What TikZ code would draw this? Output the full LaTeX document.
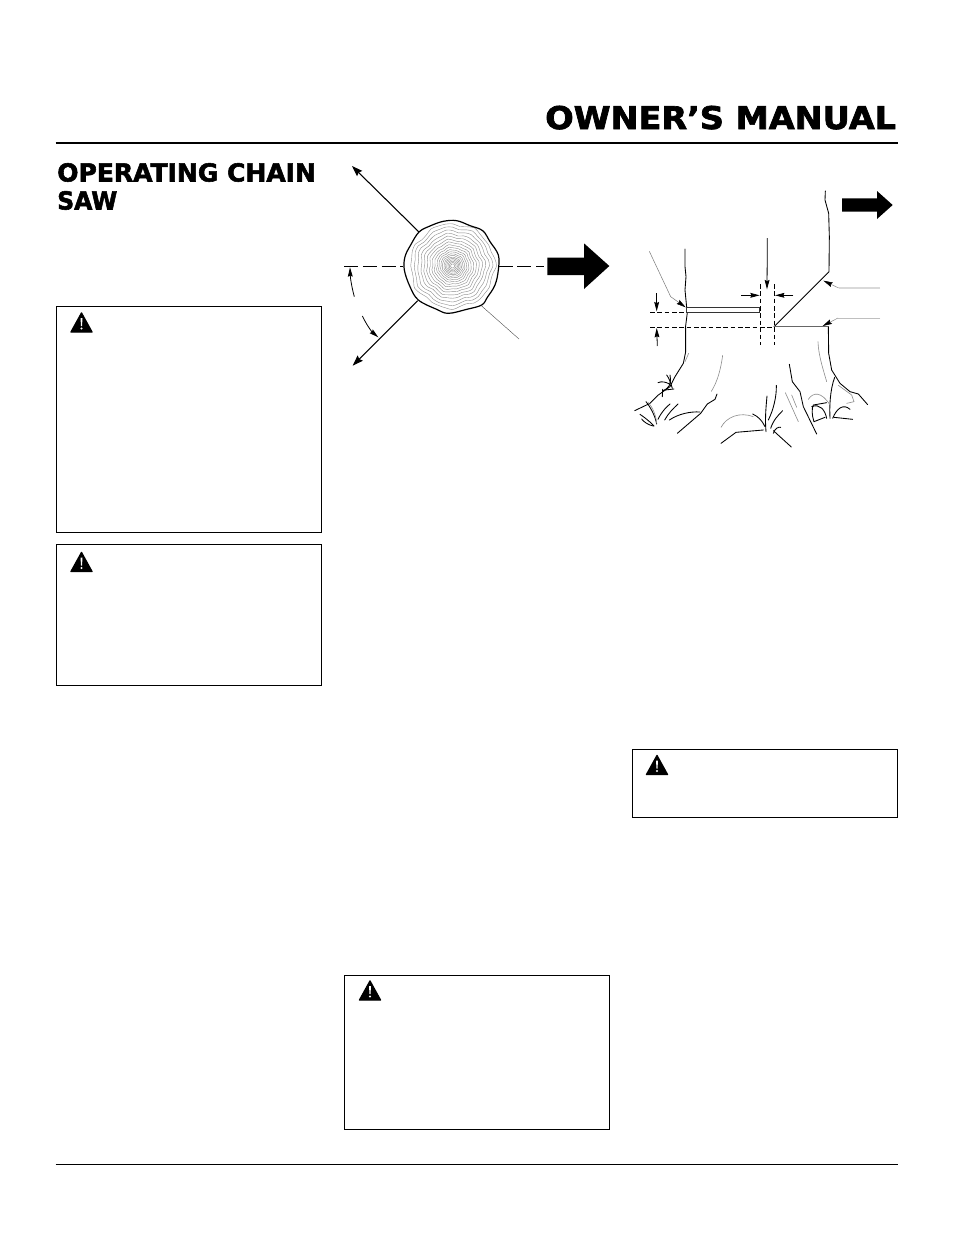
\documentclass[tikz,border=0pt]{standalone}
\usepackage{fontspec}
\usepackage{graphicx}
\setmainfont{DejaVu Sans}[BoldFeatures={FakeBold=2.2}]
\usetikzlibrary{arrows.meta}
\tikzset{
 px/.style={x=0.75pt,y=-0.75pt},
 zoomA/.style={shift={(340,160)},x=0.25pt,y=-0.25pt},
 zoomB/.style={shift={(630,180)},x=0.25pt,y=-0.25pt},
 zoomC/.style={shift={(630,320)},x=0.25pt,y=-0.25pt},
 warnbox/.style={draw=black,line width=0.6pt},
 fatarrow/.style={fill=black,draw=none},
 ink/.style={line width=0.65pt,line join=round,line cap=round},
 pale/.style={line width=0.45pt,draw=black!45,line join=round,line cap=round},
 dashline/.style={line width=0.7pt,dash pattern=on 3.5pt off 2pt},
 longdash/.style={line width=0.7pt,dash pattern=on 10.5pt off 3.6pt},
 ptr/.style={-{Stealth[length=7pt,width=3.6pt,inset=0.8pt,color=black]},line width=0.6pt},
 bigptr/.style={line width=0.8pt,{Stealth[length=8pt,width=5.5pt,inset=1pt,color=black]}-},
 ring/.style={line width=0.3pt,draw=black!45},
 heading/.style={font=\bfseries,text=black,inner sep=0pt,anchor=base west},
}
\newcommand{\warntri}[2]{%
 \begin{scope}[shift={(#1,#2)}]
  \filldraw[black,line width=1pt,line join=round] (11,0.5) -- (21.5,19.5) -- (0.5,19.5) -- cycle;
  \fill[white] (10,5.5) -- (12,5.5) -- (11.5,13.5) -- (10.5,13.5) -- cycle;
  \fill[white] (11,16) circle (1.1);
 \end{scope}}
\begin{document}
\begin{tikzpicture}[px]
\useasboundingbox (0,0) rectangle (954,1235);
\fill[white] (0,0) rectangle (954,1235);
% header
\node[heading] (title) at (545,129) {\resizebox{263pt}{17.4pt}{OWNER’S MANUAL}};
\draw[line width=1.4pt] (55.5,143) -- (898,143);
\draw[line width=0.6pt] (55.5,1164) -- (898,1164);
\node[heading] (h1) at (57,181.5) {\resizebox{194pt}{13.8pt}{OPERATING CHAIN}};
\node[heading] (h2) at (57,209.5) {\resizebox{45pt}{13.8pt}{SAW}};
% boxes
\draw[warnbox] (56.5,306.5) rectangle (321.5,532.5);
\draw[warnbox] (56.5,544.5) rectangle (321.5,685.5);
\draw[warnbox] (632.5,749.5) rectangle (897.5,817.5);
\draw[warnbox] (344.5,975.5) rectangle (609.5,1129.5);
\warntri{70.5}{312.5}
\warntri{70.5}{552}
\warntri{646}{755}
\warntri{359}{980.5}
% log
\begin{scope}[zoomA]
 \foreach \R in {6,10,14,18,22,26,31,36,42,48,55,62,70,78,87,96,106,116,126}{
  \draw[ring] plot[smooth cycle,domain=0:350,samples=36,variable=\t]
   ({338+\R*(1+0.028*sin(7*\t+\R)+0.022*sin(12*\t-2*\R))*cos(\t)},
    {318+\R*(1+0.028*sin(7*\t+\R)+0.022*sin(12*\t-2*\R))*sin(\t)});
 }
 \draw[line width=0.9pt,line join=round] plot[smooth cycle,tension=0.6] coordinates {
  (237,216)(270,198)(310,184)(350,182)(390,197)(428,212)(450,245)(475,285)(475,330)(465,375)(442,412)(425,435)(380,448)(325,460)(290,448)(235,420)(210,380)(193,330)(195,290)(212,255)};
 \coordinate (ne) at (237,216); \coordinate (neEnd) at (36,18);
 \coordinate (sw) at (233,422); \coordinate (swEnd) at (38,617);
 \draw[bigptr] (neEnd) -- (ne);
 \draw[bigptr] (swEnd) -- (sw);
 \draw[line width=0.3pt,draw=black!70] (425,438) -- (537,537);
 \draw[longdash] (12,318) -- (190,318);
 \draw[longdash] (476,318) -- (612,318);
 \draw[ptr] (43,410) .. controls (36,385) and (31,355) .. (30,322);
 \draw[ptr] (67,468) .. controls (80,495) and (95,515) .. (115,532);
 \fill[fatarrow] (622,293) -- (732,293) -- (732,250) -- (808,318) -- (732,387) -- (732,345) -- (622,345) -- cycle;
\end{scope}
% stump top
\begin{scope}[zoomB]
 \fill[fatarrow] (636,55) -- (741,55) -- (741,33) -- (788,75) -- (741,117) -- (741,95) -- (636,95) -- cycle;
 % tree outline
 \draw[ink] (586,33) -- (585,60) -- (596,100) -- (598,170) -- (597,275) -- (432,440);
 \draw[ink] (165,207) -- (165,260) -- (168,290) -- (165,330) -- (170,382);
 \draw[ink] (172,397) -- (166,445);
 % back cut
 \draw[line width=0.7pt,draw=black!80,fill=white] (170,382) rectangle (389,397);
 \draw[line width=1.1pt,draw=black!60] (432,440) -- (596,440);
 % dashed
 \draw[dashline] (60,397) -- (165,397);
 \draw[dashline] (60,441) -- (430,441);
 \draw[dashline] (391,312) -- (391,442);
 \draw[dashline] (433,312) -- (433,442);
 % pointers
 \draw[ptr] (412,174) -- (411,328);
 \draw[ptr] (333,346) -- (389,346);
 \draw[ptr] (490,346) -- (435,346);
 \draw[ptr] (80,340) -- (80,394);
 \draw[ptr,line width=0.4pt,draw=black!50] (58,214) -- (122,350) -- (167,382);
 \draw[line width=1.1pt,draw=black!15] (750,324) -- (626,324);
 \draw[ptr,line width=0.4pt,draw=black!45] (626,324) -- (580,302);
 \draw[line width=0.5pt,draw=black!25] (750,414) -- (624,414);
 \draw[ptr,line width=0.4pt,draw=black!45] (624,414) -- (578,438);
\end{scope}
% stump base
\begin{scope}[zoomC]
 \draw[ptr] (82,78) -- (80,24);
 \draw[dashline] (391,22) -- (391,76);
 \draw[dashline] (433,22) -- (433,76);
 \draw[ink] (167,24) -- (167,95) -- (160,130) -- (135,170) -- (120,200) -- (85,225) -- (60,250) -- (14,272);
 \draw[pale] (176,100) -- (165,125);
 \draw[pale] (278,106) .. controls (272,150) and (262,185) .. (244,214);
 \draw[ink] (261,222) -- (255,238) -- (232,252) -- (212,280) -- (142,340);
 \draw[ink] (118,300) .. controls (145,282) and (180,274) .. (210,276);
 % right trunk
 \draw[ink] (595,21) -- (596,100) -- (605,150) -- (630,190) -- (660,215) -- (685,222) -- (713,254);
 \draw[pale] (564,65) .. controls (565,105) and (580,150) .. (590,185);
 \draw[pale] (625,196) -- (665,225) -- (672,245) -- (650,250);
 \draw[ink] (478,133) -- (487,185) -- (510,215) -- (520,260) -- (560,342);
 \draw[pale] (466,218) -- (505,305);
 \draw[pale] (485,225) -- (500,262);
 % central root
 \draw[ink] (273,370) -- (318,337) -- (400,330);
 \draw[ink] (430,332) -- (484,381);
 \draw[pale] (273,322) .. controls (290,290) and (330,275) .. (370,290);
 % grass left
 \draw[ink] (80,312) .. controls (75,285) and (60,260) .. (48,245);
 \draw[ink] (72,318) .. controls (55,300) and (40,290) .. (30,283);
 \draw[pale] (80,310) .. controls (78,285) and (68,262) .. (55,248);
 \draw[ink] (70,318) .. controls (55,315) and (40,305) .. (35,297);
 \draw[ink] (84,298) .. controls (95,275) and (108,262) .. (120,252);
 \draw[ink] (104,300) .. controls (115,280) and (130,265) .. (144,252);
 % small tuft
 \draw[ink] (97,230) -- (98,208);
 \draw[ink] (100,212) .. controls (115,205) and (125,195) .. (120,165);
 \draw[ink] (127,205) .. controls (122,190) and (118,175) .. (110,165);
 \draw[ink] (84,188) .. controls (95,183) and (108,186) .. (118,192);
 \draw[ink] (105,210) -- (132,207);
 % grass middle
 \draw[ink] (408,335) .. controls (405,300) and (407,270) .. (411,228);
 \draw[ink] (415,300) .. controls (430,270) and (440,230) .. (439,196);
 \draw[ink] (422,325) .. controls (430,300) and (445,285) .. (458,272);
 \draw[ink] (405,320) .. controls (395,300) and (385,290) .. (368,282);
 \draw[ink] (430,340) .. controls (435,325) and (445,320) .. (452,322);
 % grass right
 \draw[ink] (600,295) .. controls (598,260) and (600,210) .. (614,172);
 \draw[ink] (590,295) .. controls (585,270) and (570,250) .. (545,260);
 \draw[ink] (552,305) .. controls (545,285) and (545,265) .. (550,255) -- (590,248);
 \draw[ink] (608,295) .. controls (620,265) and (640,250) .. (660,268);
 \draw[ink] (612,292) -- (668,298);
 \draw[pale] (535,238) .. controls (550,215) and (575,215) .. (600,255);
 \draw[ink] (552,305) -- (585,292);
\end{scope}
\end{tikzpicture}
\end{document}
